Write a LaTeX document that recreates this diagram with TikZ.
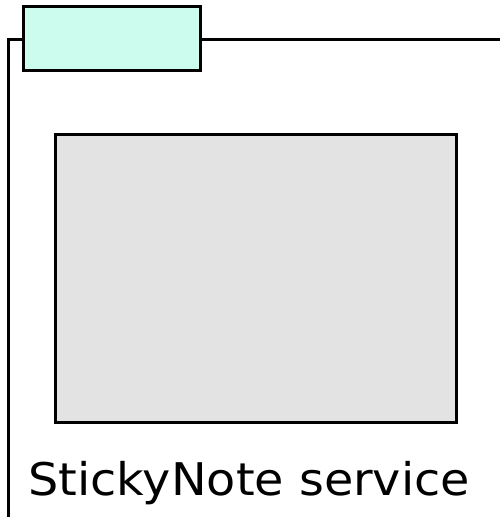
\documentclass[tikz,border=0pt]{standalone}
\usepackage{fontspec}
\setmainfont{DejaVu Sans}[FakeStretch=1.06]
\usepackage{tikz}

\definecolor{tabcyan}{HTML}{CCFCEE}
\definecolor{boxgray}{HTML}{E3E3E3}

\begin{document}
\begin{tikzpicture}[x=1pt,y=-1pt,line width=3pt]
    \useasboundingbox (0,0) rectangle (500,517);

    % frame of the service
    \coordinate (frameBottom) at (8.5,520);
    \coordinate (frameCorner) at (8.5,39);
    \coordinate (frameRight) at (503,39);
    \draw (frameBottom) -- (frameCorner) -- (frameRight);

    % tab on the top edge
    \node[draw,fill=tabcyan,inner sep=0pt,minimum width=177pt,
        minimum height=64pt] (tab) at (111.5,38.5) {};

    % note area
    \node[draw,fill=boxgray,inner sep=0pt,minimum width=401pt,
        minimum height=288pt] (note) at (256,278.5) {};

    \node[anchor=base west,inner sep=0pt,font=\fontsize{45}{54}\selectfont]
        (label) at (27,495) {StickyNote service};
\end{tikzpicture}
\end{document}
